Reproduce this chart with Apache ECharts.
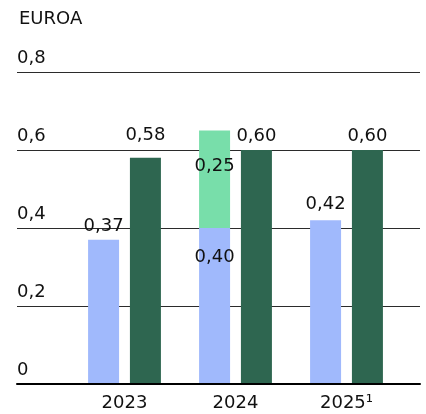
<!DOCTYPE html>
<html>
<head>
<meta charset="utf-8">
<script src="https://cdn.jsdelivr.net/npm/echarts@6/dist/echarts.min.js"></script>
<style>
  html, body { margin: 0; padding: 0; background: #fff; }
  #chart { width: 426px; height: 414px; }
</style>
</head>
<body>
<div id="chart"></div>
<script>
var years = ['2023', '2024', '2025¹'];
var baseDividend = [0.37, 0.40, 0.42];
var extraDividend = ['-', 0.25, '-'];
var payout = [0.58, 0.60, 0.60];
var yTicks = [0, 0.2, 0.4, 0.6, 0.8];

var FONT = 'DejaVu Sans';
var TEXT = '#111';
var SIZE = 18;

function fmt(v) {
  return Number(v).toFixed(2).replace('.', ',');
}

// label tweaks so the numbers sit where they do in the print version
var baseLabels = [
  { position: 'top', distance: 4 },
  { position: 'insideTop', distance: 20 },
  { position: 'top', distance: 6.5 }
];
var payoutDistance = [13, 5, 5];

var chart = echarts.init(document.getElementById('chart'));

var option = {
  backgroundColor: '#fff',
  animation: false,
  title: {
    text: 'EUROA',
    left: 14,
    top: 5,
    textStyle: { fontFamily: FONT, fontSize: SIZE, fontWeight: 'normal', color: TEXT }
  },
  grid: [
    { left: 17, right: 6, top: 72, bottom: 30 },
    { left: 69, right: 24, top: 72, bottom: 30 }
  ],
  xAxis: [
    {
      gridIndex: 0,
      type: 'category',
      data: [''],
      z: 5,
      axisLine: { lineStyle: { color: '#000', width: 2 } },
      axisTick: { show: false },
      axisLabel: { show: false },
      splitLine: { show: false }
    },
    {
      gridIndex: 1,
      type: 'category',
      data: years,
      axisLine: { show: false },
      axisTick: { show: false },
      axisLabel: {
        margin: 10,
        fontFamily: FONT,
        fontSize: SIZE,
        color: TEXT
      }
    }
  ],
  yAxis: [
    {
      gridIndex: 0,
      type: 'value',
      min: 0,
      max: 0.8,
      interval: 0.2,
      axisLine: { show: false },
      axisTick: { show: false },
      axisLabel: {
        inside: true,
        margin: 0,
        verticalAlign: 'bottom',
        lineHeight: 27,
        fontFamily: FONT,
        fontSize: SIZE,
        color: TEXT,
        formatter: function (v) {
          var t = yTicks.find(function (k) { return Math.abs(k - v) < 1e-9; });
          return t === 0 ? '0' : t.toFixed(1).replace('.', ',');
        }
      },
      splitLine: { lineStyle: { color: '#2b2b2b', width: 1 } }
    },
    {
      gridIndex: 1,
      type: 'value',
      min: 0,
      max: 0.8,
      show: false,
      splitLine: { show: false }
    }
  ],
  series: [
    {
      name: 'base',
      type: 'bar',
      xAxisIndex: 1,
      yAxisIndex: 1,
      stack: 'div',
      barWidth: 31,
      barGap: '35%',
      itemStyle: { color: '#a0b9fc' },
      label: {
        show: true,
        fontFamily: FONT,
        fontSize: SIZE,
        color: TEXT,
        formatter: function (p) { return fmt(p.value); }
      },
      data: baseDividend.map(function (v, i) {
        return { value: v, label: baseLabels[i] };
      })
    },
    {
      name: 'extra',
      type: 'bar',
      xAxisIndex: 1,
      yAxisIndex: 1,
      stack: 'div',
      barWidth: 31,
      barGap: '35%',
      itemStyle: { color: '#78deaa' },
      label: {
        show: true,
        position: 'insideTop',
        distance: 27,
        fontFamily: FONT,
        fontSize: SIZE,
        color: TEXT,
        formatter: function (p) { return fmt(p.value); }
      },
      data: extraDividend
    },
    {
      name: 'payout',
      type: 'bar',
      xAxisIndex: 1,
      yAxisIndex: 1,
      barWidth: 31,
      barGap: '35%',
      itemStyle: { color: '#2e6650' },
      label: {
        show: true,
        position: 'top',
        fontFamily: FONT,
        fontSize: SIZE,
        color: TEXT,
        formatter: function (p) { return fmt(p.value); }
      },
      data: payout.map(function (v, i) {
        return { value: v, label: { distance: payoutDistance[i] } };
      })
    }
  ]
};

chart.setOption(option);
</script>
</body>
</html>
